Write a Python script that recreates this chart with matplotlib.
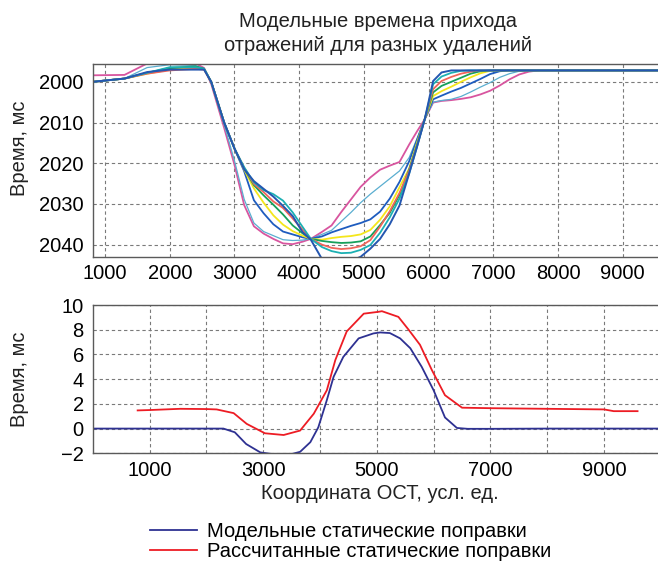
import matplotlib.pyplot as plt

plt.rcParams['font.family'] = ['Liberation Sans', 'DejaVu Sans']
plt.rcParams['font.size'] = 14.5

# --- верхний график: времена прихода для разных удалений ---
x_top = [810, 1300, 1650, 2000, 2400, 2530, 2640, 2840, 3000, 3150, 3300, 3450,
         3600, 3750, 3900, 4050, 4180, 4350, 4500, 4650, 4800, 4950, 5100, 5250,
         5400, 5550, 5700, 5820, 5940, 6070, 6200, 6350, 6500, 6650, 6800, 6950,
         7100, 7250, 7400, 7550, 7700, 9560]

t_pink = [1998.4, 1998.3, 1995.5, 1995.3, 1995.5, 1996.6, 2000.5, 2011.3, 2020.4, 2030.3, 2035.5, 2037.3,
          2038.6, 2039.7, 2039.9, 2039.3, 2038.6, 2036.9, 2035.3, 2032.0, 2028.9, 2025.8, 2023.5, 2021.6,
          2020.6, 2019.7, 2015.4, 2012.2, 2009.2, 2005.1, 2004.7, 2004.5, 2004.2, 2003.8, 2003.1, 2002.2,
          2000.9, 1999.4, 1998.2, 1997.5, 1997.2, 1997.2]
t_lightblue = [2000.0, 1999.2, 1996.5, 1995.8, 1996.0, 1996.8, 2000.2, 2010.5, 2019.4, 2028.9, 2034.7, 2036.8,
               2037.8, 2038.8, 2039.0, 2038.9, 2038.6, 2037.5, 2036.5, 2034.3, 2032.1, 2029.7, 2027.6, 2025.7,
               2023.8, 2021.9, 2018.6, 2014.0, 2009.2, 2005.0, 2004.6, 2004.3, 2003.6, 2002.5, 2001.3, 2000.2,
               1998.9, 1998.0, 1997.4, 1997.2, 1997.2, 1997.2]
t_blue = [2000.0, 1999.2, 1997.8, 1996.8, 1996.4, 1996.8, 2000.0, 2010.0, 2016.4, 2022.0, 2029.1, 2032.3,
          2035.0, 2036.8, 2037.5, 2038.2, 2038.6, 2038.0, 2037.0, 2036.2, 2035.4, 2034.7, 2033.8, 2031.9,
          2028.7, 2024.6, 2019.5, 2014.3, 2009.2, 2004.3, 2003.4, 2002.4, 2001.5, 2000.4, 1999.3, 1998.1,
          1997.4, 1997.2, 1997.2, 1997.2, 1997.2, 1997.2]
t_yellow = [2000.0, 1999.2, 1998.0, 1997.0, 1996.6, 1996.9, 2000.0, 2010.0, 2016.4, 2021.6, 2026.2, 2029.7,
            2032.8, 2035.1, 2036.7, 2037.8, 2038.6, 2038.8, 2038.4, 2038.1, 2037.9, 2037.5, 2036.4, 2033.9,
            2030.6, 2025.9, 2021.3, 2015.0, 2009.2, 2003.5, 2002.3, 2001.2, 2000.0, 1998.9, 1997.9, 1997.3,
            1997.2, 1997.2, 1997.2, 1997.2, 1997.2, 1997.2]
t_green = [2000.0, 1999.2, 1997.8, 1996.6, 1996.2, 1996.8, 2000.0, 2010.0, 2016.4, 2021.3, 2025.4, 2027.9,
           2030.2, 2032.6, 2035.3, 2037.2, 2038.6, 2039.1, 2039.4, 2039.6, 2039.5, 2039.2, 2038.0, 2035.2,
           2032.2, 2027.8, 2021.5, 2015.5, 2009.2, 2002.6, 2001.0, 2000.0, 1999.0, 1998.0, 1997.4, 1997.2,
           1997.2, 1997.2, 1997.2, 1997.2, 1997.2, 1997.2]
t_salmon = [2000.0, 1999.2, 1998.0, 1997.2, 1996.8, 1997.0, 2000.0, 2010.0, 2016.4, 2021.1, 2025.1, 2027.1,
            2029.4, 2031.0, 2033.6, 2036.3, 2038.6, 2040.0, 2040.8, 2041.1, 2040.9, 2040.4, 2038.9, 2035.6,
            2031.8, 2027.3, 2021.8, 2015.8, 2009.2, 2001.8, 1999.8, 1998.8, 1998.0, 1997.5, 1997.2, 1997.2,
            1997.2, 1997.2, 1997.2, 1997.2, 1997.2, 1997.2]
t_teal = [2000.0, 1999.2, 1997.8, 1996.4, 1996.4, 1996.8, 2000.0, 2010.0, 2016.4, 2021.0, 2024.7, 2026.6,
          2027.6, 2029.2, 2032.1, 2035.6, 2038.6, 2040.6, 2041.6, 2042.1, 2042.0, 2041.3, 2040.1, 2037.1,
          2033.3, 2028.7, 2022.5, 2016.0, 2009.2, 2000.6, 1998.7, 1997.8, 1997.3, 1997.2, 1997.2, 1997.2,
          1997.2, 1997.2, 1997.2, 1997.2, 1997.2, 1997.2]
t_darkblue = [2000.0, 1999.2, 1997.6, 1997.0, 1997.0, 1997.0, 2000.0, 2010.0, 2016.4, 2021.5, 2024.4, 2026.3,
              2028.2, 2030.5, 2033.0, 2036.9, 2038.8, 2043.5, 2044.0, 2044.0, 2044.0, 2043.0, 2041.0, 2038.6,
              2035.0, 2030.4, 2022.5, 2016.0, 2009.2, 1999.8, 1997.7, 1997.2, 1997.2, 1997.2, 1997.2, 1997.2,
              1997.2, 1997.2, 1997.2, 1997.2, 1997.2, 1997.2]

top_series = [t_pink, t_lightblue, t_blue, t_yellow, t_green, t_salmon, t_teal, t_darkblue]
top_colors = ['#d8559f', '#5aaed0', '#1e5cbf', '#f4e61c', '#16a05a', '#f0645a', '#1cb0b3', '#2456b0']
top_widths = [1.3, 0.9, 1.3, 1.3, 1.3, 1.3, 1.3, 1.4]

# --- нижний график: статические поправки ---
x_model = [0, 500, 1000, 1500, 2000, 2300, 2500, 2700, 2950, 3300, 3470, 3650, 3830, 3970,
           4120, 4240, 4410, 4680, 4940, 5060, 5230, 5410, 5590, 5790, 6000, 6200, 6410,
           6600, 7000, 8000, 9000, 10000]
dt_model = [0, 0, 0, 0, 0, 0, -0.3, -1.25, -1.93, -2.15, -2.1, -1.88, -1.1, 0.1,
            2.3, 4.2, 5.8, 7.3, 7.7, 7.78, 7.73, 7.3, 6.5, 5.0, 3.1, 0.9, 0.05,
            -0.02, -0.02, 0, 0, 0]

x_calc = [790, 1000, 1540, 2000, 2180, 2480, 2710, 3030, 3360, 3650, 3890, 4120, 4270, 4470,
          4770, 5030, 5090, 5380, 5560, 5760, 5970, 6200, 6500, 7000, 8000, 9000, 9170, 9590]
dt_calc = [1.47, 1.5, 1.6, 1.58, 1.55, 1.25, 0.38, -0.38, -0.52, -0.16, 1.2, 3.1, 5.55, 7.86,
           9.3, 9.45, 9.5, 9.04, 8.0, 6.78, 4.73, 2.7, 1.69, 1.65, 1.6, 1.55, 1.41, 1.41]

legend_labels = ['Модельные статические поправки', 'Рассчитанные статические поправки']

grid_kw = dict(color='#7a7a7a', linestyle=(0, (3, 2.5)), linewidth=0.8)

fig = plt.figure(figsize=(6.58, 5.61), dpi=100)
ax1 = fig.add_axes([0.141, 0.5419, 0.859, 0.3449])
ax2 = fig.add_axes([0.141, 0.192, 0.859, 0.2643])

for ys, c, w in zip(top_series, top_colors, top_widths):
    ax1.plot(x_top, ys, color=c, linewidth=w)
ax1.set_xlim(810, 9545)
ax1.set_ylim(2043.05, 1995.5)
ax1.set_xticks(range(1000, 10000, 1000))
ax1.set_yticks(range(2000, 2050, 10))
ax1.tick_params(axis='x', length=0, pad=5)
ax1.tick_params(axis='y', length=0, pad=6.5)

ax2.plot(x_model, dt_model, color='#2e3192', linewidth=1.3, label=legend_labels[0])
ax2.plot(x_calc, dt_calc, color='#ed1c24', linewidth=1.3, label=legend_labels[1])
ax2.set_xlim(0, 9950)
ax2.set_ylim(-2, 10)
ax2.set_xticks(range(1000, 10000, 1000))
ax2.set_xticklabels([str(v) if v % 2000 == 1000 else '' for v in range(1000, 10000, 1000)])
ax2.set_yticks(range(-2, 12, 2))
ax2.set_yticklabels(['\u22122', '0', '2', '4', '6', '8', '10'])
ax2.tick_params(axis='x', length=0, pad=5.5)
ax2.tick_params(axis='y', length=0, pad=6.5)

for ax in (ax1, ax2):
    ax.grid(True, **grid_kw)
    ax.spines['right'].set_visible(False)
    for s in ('left', 'top', 'bottom'):
        ax.spines[s].set_color('#5a5a5a')
        ax.spines[s].set_linewidth(1.0)

fig.text(0.5745, 0.9405, 'Модельные времена прихода\nотражений для разных удалений',
         ha='center', va='center', linespacing=1.3, color='#222222')
fig.text(0.03, 0.736, 'Время, мс', rotation=90, ha='center', va='center', color='#222222')
fig.text(0.03, 0.3244, 'Время, мс', rotation=90, ha='center', va='center', color='#222222')
fig.text(0.577, 0.1212, 'Координата ОСТ, усл. ед.', ha='center', va='center', color='#222222')

fig.legend(loc='center left', bbox_to_anchor=(150 / 658, 0.0348), frameon=False,
           handlelength=2.35, handletextpad=0.5, labelspacing=0.05,
           borderpad=0, borderaxespad=0)

fig.savefig('out.png', dpi=100)
